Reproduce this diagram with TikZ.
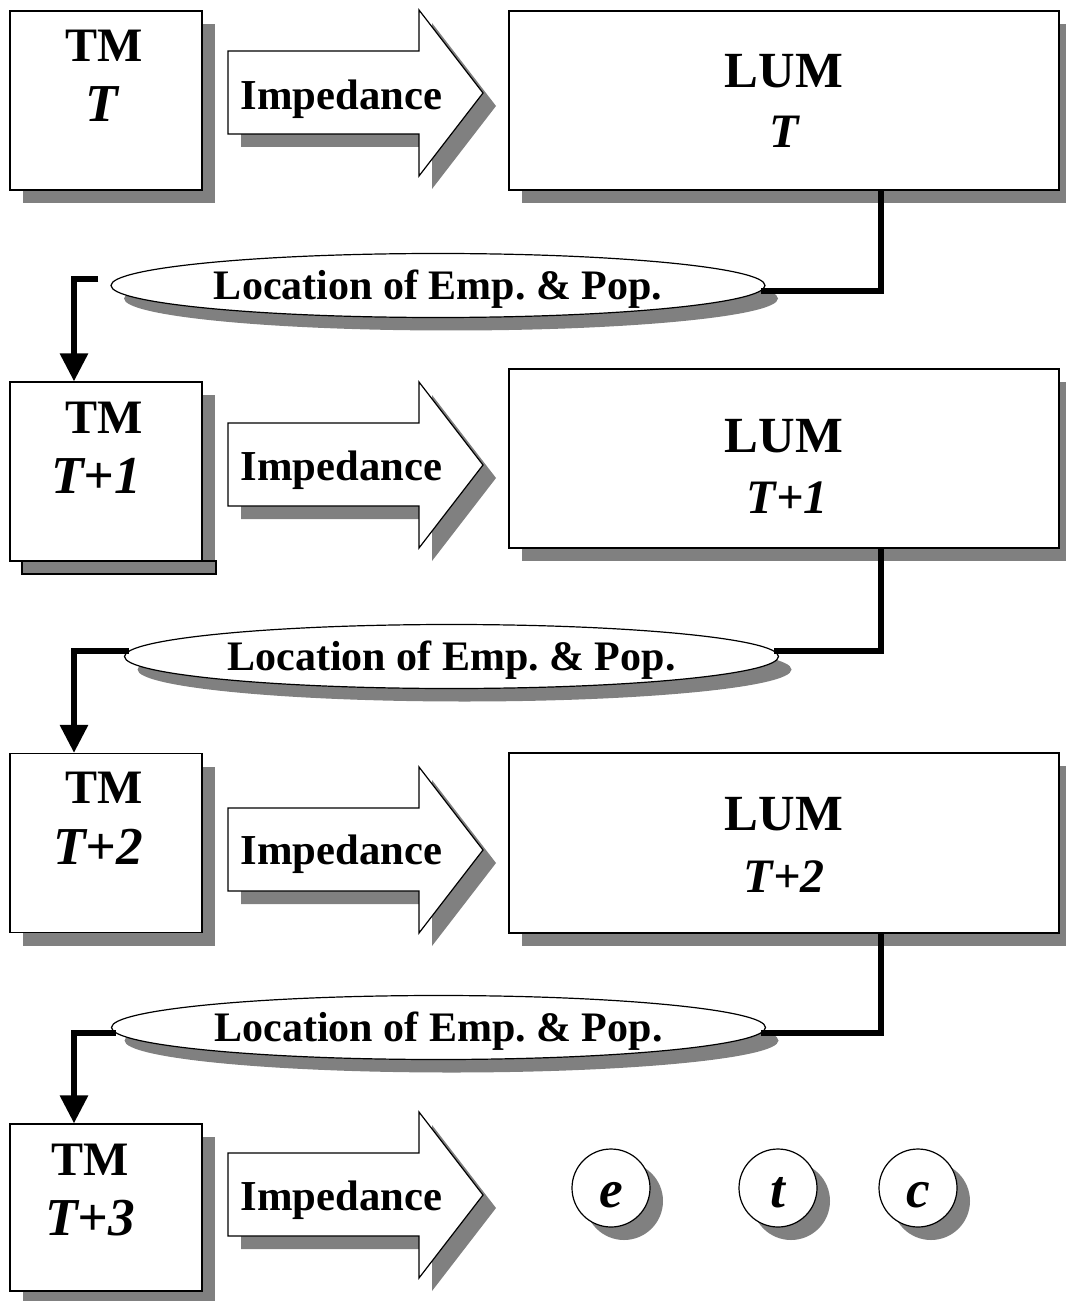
\documentclass[tikz,border=0pt]{standalone}
\usepackage{fontspec}
\setmainfont{Liberation Serif}
\usetikzlibrary{shapes.geometric,shadows,arrows.meta,calc}
\definecolor{shgray}{RGB}{128,128,128}
\tikzset{
  shad/.style={drop shadow={shadow xshift=9.75pt,shadow yshift=-9.75pt,fill=shgray,opacity=1}},
  boxbase/.style={draw,fill=white,line width=0.9pt,inner sep=0pt,shad},
  tmbox/.style={boxbase,minimum width=144pt,minimum height=134.25pt},
  lumbox/.style={boxbase,minimum width=412.5pt,minimum height=134.25pt},
  loc/.style={ellipse,draw,fill=white,line width=0.9pt,inner sep=0pt,
    minimum width=490.5pt,minimum height=48pt,shad,
    font=\fontsize{31.5}{33}\selectfont\bfseries,text height=21pt,text depth=0pt},
  circ/.style={circle,draw,fill=white,line width=0.9pt,inner sep=0pt,
    minimum size=58.5pt,shad,
    font=\fontsize{40}{42}\selectfont\bfseries\itshape,text height=28.5pt,text depth=0pt},
  tmt/.style={anchor=base,inner sep=0pt,font=\fontsize{36}{38}\selectfont\bfseries},
  tmi/.style={anchor=base,inner sep=0pt,font=\fontsize{40}{42}\selectfont\bfseries\itshape},
  lumt/.style={anchor=base,inner sep=0pt,font=\fontsize{38}{40}\selectfont\bfseries},
  lumi/.style={anchor=base,inner sep=0pt,font=\fontsize{36}{38}\selectfont\bfseries\itshape},
  impt/.style={anchor=base,inner sep=0pt,font=\fontsize{32}{34}\selectfont\bfseries},
  conn/.style={line width=4.5pt,line join=miter,line cap=butt},
  tipconn/.style={conn,-{Triangle[width=20.25pt,length=21pt]}},
  imparrow/.pic={
    \fill[shgray] (13,54) -- (204,54) -- (204,13) -- (268,96) -- (204,179) -- (204,137) -- (13,137) -- cycle;
    \draw[fill=white,line width=0.9pt,line join=miter] (0,41) -- (191,41) -- (191,0) -- (255,83) -- (191,166) -- (191,124) -- (0,124) -- cycle;
  }
}
\begin{document}
\begin{tikzpicture}[x=0.75pt,y=-0.75pt]
\useasboundingbox (0,0) rectangle (1065,1301);

% boxes
\node[tmbox] (tm1) at (106,100.5) {};
\node[tmbox] (tm2) at (106,471.5) {};
\draw[fill=shgray,line width=0.9pt] (22,561) rectangle (216,574);
\node[tmbox] (tm3) at (106,843) {};
\node[tmbox,minimum height=125.25pt] (tm4) at (106,1207.5) {};

\node[lumbox] (lum1) at (784,100.5) {};
\node[lumbox] (lum2) at (784,458.5) {};
\node[lumbox,minimum height=135pt] (lum3) at (784,843) {};

% impedance arrows
\pic at (228,10) {imparrow};
\pic at (228,382) {imparrow};
\pic at (228,767) {imparrow};
\pic at (228,1112) {imparrow};

\node[impt] (imp1) at (341.5,110) {Impedance};
\node[impt] (imp2) at (341.5,480) {Impedance};
\node[impt] (imp3) at (341.5,864) {Impedance};
\node[impt] (imp4) at (341.5,1210) {Impedance};

% box texts
\node[tmt] (tm1a) at (104,62) {TM};
\node[tmi] (tm1b) at (102,122) {T};
\node[tmt] (tm2a) at (104,433) {TM};
\node[tmi] (tm2b) at (96,493) {T+1};
\node[tmt] (tm3a) at (104,803) {TM};
\node[tmi] (tm3b) at (98,864) {T+2};
\node[tmt] (tm4a) at (90,1175) {TM};
\node[tmi] (tm4b) at (90,1235) {T+3};

\node[lumt] (lum1a) at (784,88) {LUM};
\node[lumi] (lum1b) at (784,148) {T};
\node[lumt] (lum2a) at (784,452) {LUM};
\node[lumi] (lum2b) at (787,513) {T+1};
\node[lumt] (lum3a) at (784,830) {LUM};
\node[lumi] (lum3b) at (784,892) {T+2};

% ellipses
\node[loc] (e1) at (438,285.5) {Location of Emp.\ \& Pop.};
\node[loc] (e2) at (451.5,656.5) {Location of Emp.\ \& Pop.};
\node[loc] (e3) at (438.5,1027.5) {Location of Emp.\ \& Pop.};

% connectors
\draw[conn] ([xshift=-134.25pt]lum1.south east) |- (e1.-1);
\draw[tipconn] ([xshift=-9pt,yshift=4.9pt]e1.west) -| ([xshift=-24pt]tm2.north);
\draw[conn] ([xshift=-134.25pt]lum2.south east) |- (e2.1);
\draw[tipconn] (e2.179) -| ([xshift=-24pt]tm3.north);
\draw[conn] ([xshift=-134.25pt]lum3.south east) |- (e3.-1);
\draw[tipconn] (e3.181) -| ([xshift=-24pt]tm4.north);

% etc circles
\node[circ] (ce) at (611,1188) {e};
\node[circ] (ct) at (778,1188) {t};
\node[circ] (cc) at (918,1188) {c};
\end{tikzpicture}
\end{document}
